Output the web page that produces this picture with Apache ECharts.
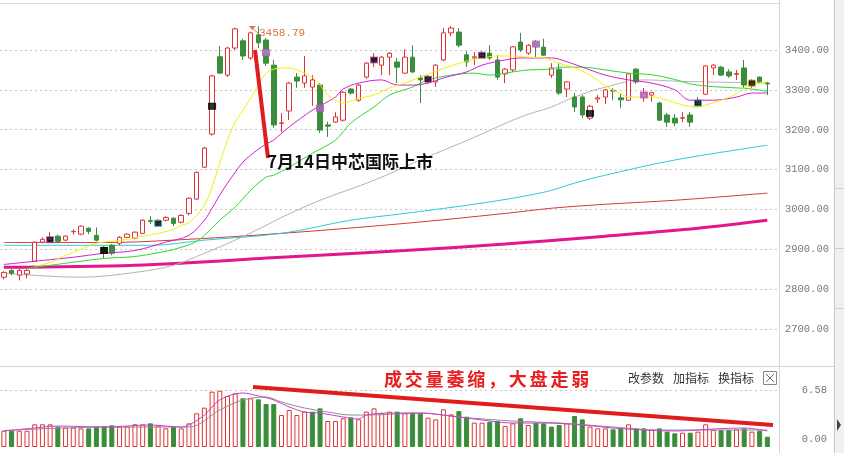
<!DOCTYPE html>
<html><head><meta charset="utf-8">
<script src="https://cdn.jsdelivr.net/npm/echarts@6/dist/echarts.min.js"></script>
<style>html,body{margin:0;padding:0;background:#fff}#c{width:844px;height:453px}</style>
</head><body><div id="c"></div>
<script>
// ---- data ----
const categories = [];
for (let i = 0; i < 101; i++) categories.push(i < 100 ? 'K' + (i + 1) : '');
const opens  = [2830,2847,2835,2838,2870,2918,2922,2933,2923,2944,2938,2953,2935,2905,2910,2915,2930,2928,2940,2972,2968,2973,2978,2968,2990,3026,3106,3189,3383,3337,3405,3423,3380,3438,3425,3362,3216,3247,3332,3317,3307,3312,3212,3219,3224,3302,3274,3332,3375,3362,3382,3370,3342,3382,3330,3320,3320,3375,3443,3445,3388,3380,3383,3392,3375,3340,3350,3420,3392,3420,3407,3337,3352,3302,3282,3282,3229,3277,3282,3299,3280,3274,3352,3282,3287,3267,3237,3229,3229,3237,3262,3289,3355,3357,3345,3339,3355,3310,3332,3317];
const closes = [2842,2840,2847,2847,2918,2925,2930,2920,2933,2945,2958,2945,2923,2893,2890,2930,2938,2943,2973,2970,2973,2980,2965,2985,3028,3093,3154,3335,3342,3405,3453,3385,3443,3418,3367,3212,3217,3317,3322,3335,3325,3199,3209,3232,3294,3292,3312,3367,3380,3382,3392,3357,3382,3345,3325,3332,3362,3443,3455,3412,3370,3383,3392,3380,3332,3352,3408,3400,3412,3408,3387,3355,3292,3320,3257,3237,3259,3280,3300,3297,3275,3340,3320,3292,3293,3224,3219,3217,3230,3219,3274,3360,3362,3337,3335,3341,3312,3322,3320,3315];
const lows   = [2825,2835,2822,2827,2868,2915,2918,2915,2920,2937,2935,2938,2920,2877,2885,2910,2928,2925,2938,2963,2960,2970,2958,2965,2985,3024,3104,3185,3340,3332,3400,3375,3375,3405,3360,3205,3194,3224,3305,3305,3260,3192,3182,3217,3220,3288,3270,3328,3357,3337,3337,3317,3340,3342,3267,3315,3307,3372,3435,3407,3357,3362,3380,3375,3325,3317,3345,3395,3388,3382,3385,3330,3287,3282,3244,3229,3224,3267,3264,3274,3254,3272,3315,3270,3270,3222,3207,3209,3219,3207,3257,3287,3337,3335,3330,3325,3305,3305,3318,3287];
const highs  = [2845,2850,2852,2850,2920,2930,2943,2937,2935,2950,2960,2955,2955,2908,2913,2933,2940,2945,2975,2983,2975,2983,2980,2988,3030,3095,3157,3338,3410,3408,3456,3428,3446,3458.79,3430,3375,3242,3320,3342,3385,3337,3317,3220,3244,3297,3305,3315,3370,3392,3385,3395,3380,3402,3412,3337,3337,3365,3455,3460,3455,3397,3395,3397,3412,3387,3355,3410,3443,3415,3425,3428,3367,3367,3322,3292,3287,3262,3287,3302,3305,3290,3342,3355,3305,3295,3270,3242,3239,3244,3244,3282,3362,3365,3360,3352,3350,3375,3327,3333,3320];
const volumes = [1.88,1.88,1.88,1.88,2.62,2.62,2.62,2.35,2.23,2.23,2.15,2.15,2.35,2.42,2.5,2.35,2.35,2.62,2.62,2.73,2.46,2.15,2.35,2.15,2.73,3.89,4.54,6.39,6.5,5.89,6.19,5.62,5.62,5.5,4.96,4.96,3.69,4.27,3.69,4.08,4.08,4.46,3.0,3.0,3.31,3.42,3.19,4.08,4.46,3.89,4.08,4.08,3.89,3.96,3.89,3.39,3.19,4.35,3.77,4.15,3.5,2.81,2.81,2.92,3.0,2.42,2.73,3.31,2.54,2.81,2.73,2.35,2.54,2.73,3.58,3.19,2.35,2.15,2.15,2.04,2.15,2.62,2.15,2.15,1.96,2.15,1.77,1.58,1.65,1.65,1.77,2.62,1.96,1.96,1.96,2.04,2.15,1.77,1.88,1.19];

// moving-average lines, sampled where read
const ma5Idx = [4,6,8,10,12,14,16,18,20,22,23,24,25,26,27,28,29,30,31,32,33,34,35,36,37,38,39,40,41,42,43,44,45,46,48,50,52,54,56,58,60,62,64,66,68,70,72,74,76,78,80,81,83,84,86,88,90,91,93,95,96,98,99];
const ma5Val = [2857,2867,2885,2900,2915,2920,2925,2933,2940,2950,2960,2967,2985,3010,3056,3116,3174,3219,3249,3279,3312,3342,3352,3355,3355,3350,3342,3332,3312,3287,3274,3267,3272,3279,3287,3305,3317,3332,3347,3360,3372,3380,3385,3385,3382,3380,3367,3355,3337,3310,3290,3282,3282,3282,3274,3262,3257,3262,3274,3290,3305,3317,3320];
const ma10Idx = [0,5,9,13,17,21,24,26,27,28,29,30,31,32,33,34,35,36,37,40,43,44,46,49,51,53,55,57,60,62,65,67,71,72,75,78,81,84,87,89,92,95,97,99];
const ma10Val = [2862,2872,2880,2890,2897,2918,2935,2973,3003,3036,3066,3093,3119,3136,3151,3164,3174,3191,3207,3249,3282,3302,3317,3325,3312,3312,3317,3330,3345,3362,3375,3380,3380,3377,3357,3337,3325,3317,3300,3274,3274,3282,3292,3292];
const ma20Idx = [3,8,13,17,21,23,25,27,28,30,32,34,35,37,40,43,45,48,50,53,55,58,61,63,66,68,71,72,75,78,81,84,87,89,92,95,97,99];
const ma20Val = [2852,2865,2877,2882,2895,2905,2920,2953,2973,3006,3048,3081,3086,3106,3141,3174,3217,3257,3287,3307,3325,3337,3342,3337,3345,3350,3352,3357,3357,3350,3342,3338,3326,3315,3308,3305,3302,3296];
const ma60Idx = [0,10,17,22,26,30,34,36,41,48,54,61,67,71,74,78,83,87,91,96,99];
const ma60Val = [2840,2830,2842,2860,2890,2923,2960,2980,3023,3073,3124,3181,3232,3257,3282,3307,3325,3322,3320,3318,3317];
const ma120Idx = [0,19,26,36,45,52,62,70,74,78,87,99];
const ma120Val = [2910,2910,2923,2940,2973,2990,3016,3043,3066,3086,3124,3161];
const ma250Idx = [0,13,22,36,52,65,71,78,87,99];
const ma250Val = [2917,2917,2923,2940,2965,2990,3003,3013,3023,3041];
const maLongIdx = [0,17,36,52,65,78,90,99];
const maLongVal = [2855,2860,2880,2897,2913,2933,2953,2973];
const vma5Idx = [0,4,7,13,19,23,24,26,28,31,33,35,37,39,41,44,46,47,50,54,57,62,66,70,75,79,83,87,92,96,99];
const vma5Val = [1.85,2.19,2.42,2.31,2.54,2.31,2.54,3.69,5.43,6.23,5.89,5.43,4.62,4.04,3.92,3.46,3.23,3.69,3.92,3.92,3.69,3.12,2.77,2.77,2.54,2.19,1.96,1.85,2.08,2.19,1.85];
const vma10Idx = [0,13,24,28,31,34,36,39,42,45,47,54,59,66,72,79,85,92,99];
const vma10Val = [1.9,2.3,2.31,4.27,5.43,5.77,5.19,4.5,4.04,3.69,3.69,3.92,3.46,3.0,2.77,2.31,1.96,1.96,1.96];
// weekly marker squares
const markIdx = [6,13,20,27,34,41,48,55,62,69,76,83,90,97];
const markVal = [2924,2897,2965,3259,3393,3254,3375,3327,3387,3415,3241,3287,3267,3317];
const priceTicks = {min: 2600, max: 3500, step: 100};
const volTickLabels = ['6.58', '0.00'];
const volRefLine = 6.58;
const highLabel = '3458.79';

// ---- styles ----
const UP = '#e03434', DOWN = '#3a8d3a';
const markFill = ['#000','#000','#000','#000','#c27ac9','#b861c0','#000','#000','#000','#c27ac9','#000','#b861c0','#000','#000'];
const markBorder = ['#b060c0','#000','#30c0d0','#000','#b060c0','#b060c0','#b060c0','#b060c0','#b060c0','#b060c0','#000','#b060c0','#30c0d0','#d0c020'];

function sparse(idx, val) {
  const a = new Array(101).fill(null);
  idx.forEach((k, j) => { a[k] = val[j]; });
  return a;
}
const kData = opens.map((o, i) => [o, closes[i], lows[i], highs[i]]);
const volData = volumes.map((v, i) => {
  const up = i === 0 || closes[i] >= closes[i - 1];
  return { value: v, itemStyle: up ? { color: '#fff', borderColor: UP, borderWidth: 1 } : { color: DOWN, borderColor: DOWN, borderWidth: 1 } };
});
const markData = markIdx.map((k, j) => ({ value: [k, markVal[j]], itemStyle: { color: markFill[j], borderColor: markBorder[j], borderWidth: 1 } }));

const gridW = 783.8, gridL = -4.88;
const priceTop = 10.14, priceH = 358.74;
const volTop = 373, volH = 74, volMax = 8.542;
const dotC = '#c4c4c4';
const splitColors = [];
for (let v = priceTicks.min; v <= priceTicks.max; v += priceTicks.step)
  splitColors.push(v === priceTicks.min || v === priceTicks.max ? 'rgba(0,0,0,0)' : dotC);

function line(data, color, width, z) {
  return { type: 'line', data, xAxisIndex: 0, yAxisIndex: 0, showSymbol: false, symbol: 'none', smooth: 0.35,
    connectNulls: true, lineStyle: { color, width }, z: z || 3, silent: true };
}

const graphics = [];
graphics.push({ type: 'rect', shape: { x: 835, y: 0, width: 9, height: 453 }, style: { fill: '#f1f1f1' }, z: 100 });
graphics.push({ type: 'line', shape: { x1: 0, y1: 3.5, x2: 779, y2: 3.5 }, style: { stroke: '#d9d9d9', lineWidth: 1 }, z: 100 });
graphics.push({ type: 'line', shape: { x1: 0, y1: 366.5, x2: 834, y2: 366.5 }, style: { stroke: '#d4d4d4', lineWidth: 1 }, z: 100 });
graphics.push({ type: 'line', shape: { x1: 779.5, y1: 0, x2: 779.5, y2: 453 }, style: { stroke: '#d4d4d4', lineWidth: 1 }, z: 100 });
graphics.push({ type: 'line', shape: { x1: 834.5, y1: 0, x2: 834.5, y2: 453 }, style: { stroke: '#c8c8c8', lineWidth: 1 }, z: 100 });
[188, 248, 308].forEach(y => graphics.push({ type: 'line', shape: { x1: 835, y1: y + 0.5, x2: 844, y2: y + 0.5 }, style: { stroke: '#cfcfcf', lineWidth: 1 }, z: 100 }));
graphics.push({ type: 'polygon', shape: { points: [[837, 419], [841, 425], [837, 431]] }, style: { fill: '#444' }, z: 100 });
// annotation in price panel
graphics.push({ type: 'line', shape: { x1: 255, y1: 50, x2: 268, y2: 158 }, style: { stroke: '#e01c1c', lineWidth: 4 }, z: 110 });
graphics.push({ type: 'text', style: { text: '7月14日中芯国际上市', x: 267, y: 162, fill: '#111', font: 'bold 17px "Noto Sans CJK SC"', align: 'left', verticalAlign: 'middle' }, z: 110 });
// high label
graphics.push({ type: 'polygon', shape: { points: [[249, 26], [256, 26], [252, 30]] }, style: { fill: '#e07a3a' }, z: 110 });
graphics.push({ type: 'line', shape: { x1: 253, y1: 29, x2: 258, y2: 33 }, style: { stroke: '#e07a3a', lineWidth: 1 }, z: 110 });
graphics.push({ type: 'text', style: { text: highLabel, x: 259, y: 33, fill: '#d9773c', font: '11px "Liberation Mono"', align: 'left', verticalAlign: 'middle' }, z: 110 });
// volume panel annotation
graphics.push({ type: 'line', shape: { x1: 253, y1: 387, x2: 773, y2: 425 }, style: { stroke: '#e01c1c', lineWidth: 4 }, z: 110 });
const redTxt = '成交量萎缩，大盘走弱';
for (let k = 0; k < redTxt.length; k++) {
  graphics.push({ type: 'text', style: { text: redTxt[k], x: 384 + k * 20.8, y: 379, fill: '#e81e1e', font: 'bold 18px "Noto Sans CJK SC"', align: 'left', verticalAlign: 'middle' }, z: 110 });
}
[['改参数', 628], ['加指标', 673], ['换指标', 718]].forEach(([t, x]) => {
  graphics.push({ type: 'text', style: { text: t, x, y: 378, fill: '#333', font: '12px "Noto Sans CJK SC"', align: 'left', verticalAlign: 'middle' }, z: 110 });
});
graphics.push({ type: 'rect', shape: { x: 763.5, y: 371.5, width: 13, height: 13 }, style: { fill: '#fff', stroke: '#888', lineWidth: 1 }, z: 110 });
graphics.push({ type: 'line', shape: { x1: 766, y1: 374, x2: 774, y2: 382 }, style: { stroke: '#666', lineWidth: 1 }, z: 111 });
graphics.push({ type: 'line', shape: { x1: 774, y1: 374, x2: 766, y2: 382 }, style: { stroke: '#666', lineWidth: 1 }, z: 111 });
// volume axis labels (0.00 is drawn a little above the panel bottom, as in the reference)
const volLabelY = [390, 439];
volTickLabels.forEach((t, j) => {
  graphics.push({ type: 'text', style: { text: t, x: 827, y: volLabelY[j], fill: '#777', font: '10.5px "Liberation Mono"', align: 'right', verticalAlign: 'middle' }, z: 110 });
});

const chart = echarts.init(document.getElementById('c'), null, { renderer: 'canvas' });
chart.setOption({
  animation: false,
  backgroundColor: '#fff',
  grid: [
    { left: gridL, top: priceTop, width: gridW, height: priceH },
    { left: gridL, top: volTop, width: gridW, height: volH }
  ],
  xAxis: [
    { type: 'category', data: categories, gridIndex: 0, boundaryGap: true, show: false },
    { type: 'category', data: categories, gridIndex: 1, boundaryGap: true, show: false }
  ],
  yAxis: [
    { type: 'value', gridIndex: 0, position: 'right', min: priceTicks.min, max: priceTicks.max, interval: priceTicks.step,
      axisLine: { show: false }, axisTick: { show: false },
      axisLabel: { margin: 6, showMinLabel: false, showMaxLabel: false, color: '#777', fontFamily: 'Liberation Mono', fontSize: 10.5,
        formatter: v => (v === priceTicks.min || v === priceTicks.max) ? '' : v.toFixed(2) },
      splitLine: { show: true, lineStyle: { color: splitColors, type: [2, 3], width: 1 } } },
    { type: 'value', gridIndex: 1, min: 0, max: volMax, show: false, splitLine: { show: false } }
  ],
  series: [
    line(sparse(maLongIdx, maLongVal), '#e3168e', 3, 2),
    line(sparse(ma250Idx, ma250Val), '#d23a3a', 1, 2),
    line(sparse(ma120Idx, ma120Val), '#2ccbdc', 1, 2),
    line(sparse(ma60Idx, ma60Val), '#b4b4b4', 1, 2),
    { type: 'candlestick', data: kData, xAxisIndex: 0, yAxisIndex: 0, barWidth: 5, z: 4, silent: true,
      itemStyle: { color: '#fff', color0: DOWN, borderColor: UP, borderColor0: DOWN, borderWidth: 1 } },
    line(sparse(ma20Idx, ma20Val), '#2fd82f', 1, 5),
    line(sparse(ma10Idx, ma10Val), '#d41fd4', 1, 5),
    line(sparse(ma5Idx, ma5Val), '#f2f20a', 1, 5),
    { type: 'scatter', data: markData, xAxisIndex: 0, yAxisIndex: 0, symbol: 'rect', symbolSize: [7, 6], z: 6, silent: true },
    { type: 'bar', data: volData, xAxisIndex: 1, yAxisIndex: 1, barWidth: 5, z: 3, silent: true,
      markLine: { silent: true, symbol: 'none', label: { show: false }, lineStyle: { color: dotC, type: [2, 3], width: 1 }, data: [{ yAxis: volRefLine }] } },
    { type: 'line', data: sparse(vma10Idx, vma10Val), xAxisIndex: 1, yAxisIndex: 1, showSymbol: false, smooth: 0.35, connectNulls: true, lineStyle: { color: '#8f8f8f', width: 1 }, z: 5, silent: true },
    { type: 'line', data: sparse(vma5Idx, vma5Val), xAxisIndex: 1, yAxisIndex: 1, showSymbol: false, smooth: 0.35, connectNulls: true, lineStyle: { color: '#cc3fcc', width: 1 }, z: 5, silent: true }
  ],
  graphic: graphics
});
</script>
</body></html>
